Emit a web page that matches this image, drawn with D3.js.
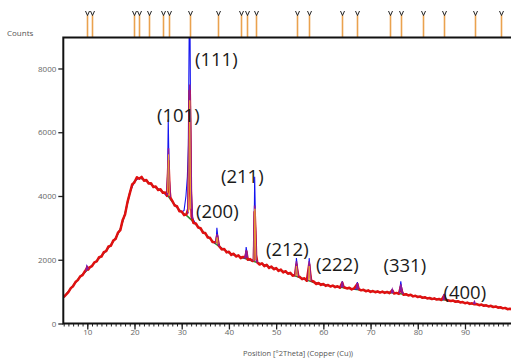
<!DOCTYPE html>
<html>
<head>
<meta charset="utf-8">
<script src="https://cdn.jsdelivr.net/npm/d3@7"></script>
<style>
html,body{margin:0;padding:0;background:#fff;}
svg{display:block;}
</style>
</head>
<body>
<svg id="chart" width="511" height="358"></svg>
<script>
// ---------------- DATA ----------------
const xTicks = [10, 20, 30, 40, 50, 60, 70, 80, 90];
const yTicks = [0, 2000, 4000, 6000, 8000];

// reference pattern line positions (°2θ)
const refLines = [10.0, 11.06, 19.95, 21.01, 23.07, 26.1, 27.3, 31.75, 37.62, 42.62, 43.83, 45.63,
  54.35, 57.02, 64.01, 67.13, 74.11, 76.38, 81.17, 85.55, 92.18, 97.69];

// background fit (green)
const greenFit = [[5,820],[6,1000],[7,1190],[8,1380],[9,1540],[10,1680],[11,1820],[12,1970],[13,2120],[14,2290],
  [15,2470],[16,2680],[17,2960],[18,3450],[19,4100],[19.5,4320],[20,4460],[20.5,4540],[21,4570],[22,4520],[23,4420],[24,4310],
  [25,4220],[26,4130],[27,4020],[28,3820],[29,3640],[30,3490],[31,3390],[32,3260],[33,3110],[34,2960],
  [35,2810],[36,2660],[37,2520],[38,2410],[39,2310],[40,2220],[41,2160],[42,2110],[43,2060],[44,2010],
  [45,1960],[46,1910],[47,1860],[48,1810],[49,1760],[50,1710],[51,1660],[52,1610],[53,1560],[54,1500],
  [55,1440],[56,1390],[57,1340],[58,1290],[59,1250],[60,1220],[61,1190],[62,1170],[63,1150],[64,1130],
  [65,1110],[66,1090],[67,1070],[68,1050],[69,1030],[70,1010],[71,1000],[72,990],[73,980],[74,970],
  [75,955],[76,940],[77,920],[78,895],[79,870],[80,845],[81,820],[82,800],[83,780],[84,765],
  [85,750],[86,735],[87,715],[88,695],[89,675],[90,650],[91,630],[92,610],[93,590],[94,570],
  [95,550],[96,530],[97,510],[98,490],[99,465],[100,445]];

// blue scan
const blueScan = [[5,820],[6,1000],[7,1190],[8,1380],[9,1540],[9.7,1640],[9.9,1800],[10.1,1720],[10.4,1720],[11,1820],
  [12,1970],[13,2120],[14,2290],[15,2470],[16,2680],[17,2960],[18,3450],[19,4100],[20,4460],[21,4570],
  [22,4520],[23,4420],[24,4310],[25,4220],[26,4130],[26.8,4000],[27.0,4600],[27.15,6400],[27.3,5000],[27.5,4000],
  [28,3820],[29,3640],[30,3490],[30.5,3550],[30.9,4000],[31.2,4600],[31.4,5600],[31.6,9500],[31.7,11000],[31.85,7000],
  [32.0,4300],[32.3,3300],[33,3110],[34,2960],[35,2810],[36,2660],[37,2520],[37.3,2580],[37.45,3000],[37.6,2800],
  [37.8,2500],[38,2410],[39,2310],[40,2220],[41,2160],[42,2110],[43,2060],[43.5,2060],[43.65,2400],[43.8,2250],
  [44,2020],[45,1960],[45.3,2050],[45.45,4600],[45.55,3800],[45.7,2400],[45.9,1950],[46,1910],[47,1860],[48,1810],
  [49,1760],[50,1710],[51,1660],[52,1610],[53,1560],[54,1500],[54.15,1600],[54.3,2050],[54.45,1800],[54.7,1490],
  [55,1440],[56,1390],[56.7,1360],[56.85,1500],[57.0,2050],[57.15,1750],[57.4,1340],[58,1290],[59,1250],[60,1220],
  [61,1190],[62,1170],[63,1150],[63.8,1140],[64.0,1330],[64.2,1160],[65,1110],[66,1090],[67,1080],[67.2,1300],
  [67.45,1080],[68,1050],[69,1030],[70,1010],[71,1000],[72,990],[73,980],[74,970],[74.4,965],[74.6,1080],
  [74.8,960],[75,955],[76,940],[76.2,1000],[76.4,1320],[76.6,1100],[76.9,930],[77,920],[78,895],[79,870],
  [80,845],[81,820],[82,800],[83,780],[84,765],[85,750],[85.4,745],[85.6,930],[85.8,760],[86,735],
  [87,715],[88,695],[89,675],[90,650],[91,630],[92,610],[93,590],[94,570],[95,550],[96,530],
  [97,510],[98,490],[99,465],[100,445]];

// red (noisy) scan
const redScan = [[5.0,830],[5.5,905],[6.0,985],[6.5,1110],[7.0,1170],[7.5,1300],[8.0,1360],[8.5,1480],[9.0,1520],[9.5,1640],
  [9.8,1700],[10.0,1770],[10.2,1690],[10.5,1760],[11.0,1800],[11.5,1920],[12.0,1950],[12.5,2080],[13.0,2100],[13.5,2240],
  [14.0,2270],[14.5,2420],[15.0,2440],[15.5,2600],[16.0,2650],[16.5,2850],[17.0,2930],[17.5,3250],[18.0,3420],[18.5,3800],
  [19.0,4080],[19.5,4360],[20.0,4430],[20.5,4590],[21.0,4540],[21.5,4600],[22.0,4480],[22.5,4500],[23.0,4390],[23.5,4400],
  [24.0,4280],[24.5,4300],[25.0,4190],[25.5,4210],[26.0,4100],[26.5,4110],[26.9,4000],[27.05,4500],[27.2,5100],[27.3,4700],
  [27.45,4150],[27.6,3950],[28.0,3850],[28.5,3700],[29.0,3680],[29.5,3520],[30.0,3510],[30.5,3400],[31.0,3420],[31.4,3600],
  [31.55,5200],[31.7,7300],[31.8,6400],[31.95,4200],[32.1,3350],[32.5,3150],[33.0,3140],[33.5,3010],[34.0,2990],[34.5,2850],
  [35.0,2840],[35.5,2700],[36.0,2690],[36.5,2560],[37.0,2550],[37.3,2560],[37.5,2750],[37.65,2620],[37.9,2430],[38.5,2320],
  [39.0,2340],[39.5,2230],[40.0,2250],[40.5,2150],[41.0,2190],[41.5,2100],[42.0,2140],[42.5,2050],[43.0,2090],[43.5,2080],
  [43.7,2250],[43.85,2120],[44.0,2000],[44.5,2020],[45.0,1960],[45.3,2000],[45.45,3500],[45.6,2900],[45.75,2150],[46.0,1920],
  [46.5,1850],[47.0,1890],[47.5,1800],[48.0,1840],[48.5,1740],[49.0,1790],[49.5,1700],[50.0,1740],[50.5,1650],[51.0,1690],
  [51.5,1600],[52.0,1640],[52.5,1560],[53.0,1590],[53.5,1500],[54.0,1520],[54.3,1850],[54.45,1700],[54.7,1480],[55.0,1460],
  [55.5,1390],[56.0,1420],[56.5,1340],[57.0,1850],[57.15,1650],[57.4,1350],[58.0,1310],[58.5,1240],[59.0,1270],[59.5,1210],
  [60.0,1240],[60.5,1180],[61.0,1210],[61.5,1160],[62.0,1190],[62.5,1140],[63.0,1170],[63.5,1120],[64.0,1280],[64.3,1140],
  [64.5,1130],[65.0,1100],[65.5,1120],[66.0,1070],[66.5,1100],[67.2,1240],[67.5,1080],[68.0,1040],[68.5,1060],[69.0,1010],
  [69.5,1040],[70.0,990],[70.5,1020],[71.0,980],[71.5,1010],[72.0,970],[72.5,1000],[73.0,960],[73.5,990],[74.0,950],
  [74.6,1040],[75.0,940],[75.5,960],[76.0,930],[76.4,1150],[76.7,980],[77.0,900],[77.5,920],[78.0,880],[78.5,900],
  [79.0,850],[79.5,870],[80.0,830],[80.5,850],[81.0,805],[81.5,825],[82.0,785],[82.5,800],[83.0,765],[83.5,790],
  [84.0,750],[84.5,770],[85.0,735],[85.6,880],[85.9,750],[86.5,720],[87.0,705],[87.5,720],[88.0,680],[88.5,700],
  [89.0,660],[89.5,675],[90.0,635],[90.5,655],[91.0,615],[91.5,635],[92.0,600],[92.5,610],[93.0,575],[93.5,595],
  [94.0,555],[94.5,570],[95.0,535],[95.5,555],[96.0,515],[96.5,535],[97.0,495],[97.5,510],[98.0,475],[98.5,490],
  [99.0,450],[99.5,465],[100.0,435]];

// purple scan (peak regions)
const purplePeaks = [
  [[9.7,1650],[9.95,1780],[10.2,1700]],
  [[26.9,4030],[27.05,4700],[27.2,5500],[27.35,4500],[27.55,3960]],
  [[31.3,3450],[31.5,5000],[31.7,7500],[31.85,6000],[32.05,3800],[32.3,3280]],
  [[37.2,2540],[37.5,2800],[37.7,2560],[37.95,2420]],
  [[43.4,2050],[43.7,2300],[43.9,2060]],
  [[45.2,1960],[45.45,3700],[45.6,2900],[45.8,2000],[46.0,1910]],
  [[54.05,1510],[54.3,1950],[54.5,1600],[54.7,1480]],
  [[56.75,1350],[57.0,1950],[57.2,1550],[57.4,1340]],
  [[63.8,1140],[64.0,1300],[64.2,1140]],
  [[67.0,1075],[67.2,1270],[67.4,1070]],
  [[74.4,965],[74.6,1060],[74.8,960]],
  [[76.1,945],[76.4,1230],[76.65,1000],[76.9,930]],
  [[85.4,745],[85.6,920],[85.8,745]],
  [[91.8,615],[92.0,680],[92.2,610]]
];

// orange scan (peak regions)
const orangePeaks = [
  [[27.0,4100],[27.2,5300],[27.4,4000]],
  [[31.45,3500],[31.7,7000],[31.9,3600]],
  [[37.3,2530],[37.5,2700],[37.7,2500]],
  [[45.3,1980],[45.5,3600],[45.7,2000]],
  [[54.15,1500],[54.3,1800],[54.5,1490]],
  [[56.85,1360],[57.0,1800],[57.2,1340]]
];

// Miller index labels: text and anchor (°2θ, counts) at text start / baseline
const peakLabels = [
  {text: "(111)", at: [32.81, 8078]},
  {text: "(101)", at: [24.76, 6322]},
  {text: "(211)", at: [38.32, 4408]},
  {text: "(200)", at: [33.02, 3310]},
  {text: "(212)", at: [47.85, 2118]},
  {text: "(222)", at: [58.44, 1647]},
  {text: "(331)", at: [72.74, 1616]},
  {text: "(400)", at: [85.45, 769]}
];

// ---------------- DRAW ----------------
const svg = d3.select("#chart");
const pLeft = 63.3, pRight = 512.2, pTop = 37.5, pBottom = 323.5;

const x = d3.scaleLinear().domain([4.92, 100]).range([pLeft, pRight]);
const y = d3.scaleLinear().domain([0, 8972]).range([pBottom, pTop]);

svg.append("defs").append("clipPath").attr("id", "plotclip")
  .append("rect").attr("x", pLeft).attr("y", pTop).attr("width", pRight - pLeft).attr("height", pBottom - pTop);

const line = d3.line().x(d => x(d[0])).y(d => y(d[1]));
const plot = svg.append("g").attr("clip-path", "url(#plotclip)");

plot.append("path").datum(greenFit).attr("d", line)
  .attr("fill", "none").attr("stroke", "#2f8f2f").attr("stroke-width", 1.6);
plot.append("path").datum(blueScan).attr("d", line)
  .attr("fill", "none").attr("stroke", "#1414f0").attr("stroke-width", 1.1);
plot.append("path").datum(redScan).attr("d", line)
  .attr("fill", "none").attr("stroke", "#e01010").attr("stroke-width", 2.5).attr("stroke-linejoin", "round");
plot.selectAll("path.purple").data(purplePeaks).enter().append("path").attr("class", "purple")
  .attr("d", line).attr("fill", "none").attr("stroke", "#8a1aa0").attr("stroke-width", 1.6);
plot.selectAll("path.orange").data(orangePeaks).enter().append("path").attr("class", "orange")
  .attr("d", line).attr("fill", "none").attr("stroke", "#f0a030").attr("stroke-width", 1);

// reference pattern markers above the plot
const mk = svg.append("g");
refLines.forEach(v => {
  const px = Math.round(x(v)) + 0.5;
  mk.append("line").attr("x1", px).attr("x2", px).attr("y1", 15).attr("y2", pTop)
    .attr("stroke", "#eaa24e").attr("stroke-width", 1.6);
  mk.append("path").attr("d", `M${px-2},11 L${px},15.5 L${px+2},11`)
    .attr("fill", "none").attr("stroke", "#222").attr("stroke-width", 1);
});

// axes
const xMajor = d3.axisBottom(x).tickValues(xTicks).tickSize(6).tickFormat(d3.format("d"));
const xMinor = d3.axisBottom(x).tickValues(d3.range(5, 100, 1)).tickSize(3).tickFormat("");
const yAxis = d3.axisLeft(y).tickValues(yTicks).tickSize(5).tickFormat(d3.format("d"));

const gxm = svg.append("g").attr("transform", `translate(0,${pBottom})`).call(xMinor);
const gx = svg.append("g").attr("transform", `translate(0,${pBottom})`).call(xMajor);
const gy = svg.append("g").attr("transform", `translate(${pLeft},0)`).call(yAxis);
[gxm, gx, gy].forEach(g => {
  g.select(".domain").remove();
  g.selectAll("line").attr("stroke", "#222").attr("stroke-width", 1);
});
gx.selectAll("line").attr("stroke-width", 1.3);
gy.selectAll("line").attr("stroke-width", 1.3);
gx.selectAll("text").attr("dy", "0.2em").attr("y", 10)
  .attr("font-family", "Open Sans, DejaVu Sans, sans-serif").attr("font-size", 8).attr("fill", "#666");
gy.selectAll("text").attr("x", -7)
  .attr("font-family", "Open Sans, DejaVu Sans, sans-serif").attr("font-size", 8).attr("fill", "#666");

// frame
svg.append("path").attr("d", `M${pRight},${pTop} L${pLeft},${pTop} L${pLeft},${pBottom} L${pRight},${pBottom}`)
  .attr("fill", "none").attr("stroke", "#111").attr("stroke-width", 2);

// axis titles
svg.append("text").attr("x", 7).attr("y", 36).text("Counts")
  .attr("font-family", "Open Sans, DejaVu Sans, sans-serif").attr("font-size", 8).attr("fill", "#555");
svg.append("text").attr("x", 243).attr("y", 356).text("Position [°2Theta] (Copper (Cu))")
  .attr("font-family", "Open Sans, DejaVu Sans, sans-serif").attr("font-size", 7.5).attr("fill", "#555");

// peak labels
svg.selectAll("text.lbl").data(peakLabels).enter().append("text").attr("class", "lbl")
  .attr("x", d => x(d.at[0])).attr("y", d => y(d.at[1])).text(d => d.text)
  .attr("font-family", "Open Sans, Liberation Sans, sans-serif").attr("font-size", 18.5).attr("fill", "#1a1a1a");
</script>
</body>
</html>
